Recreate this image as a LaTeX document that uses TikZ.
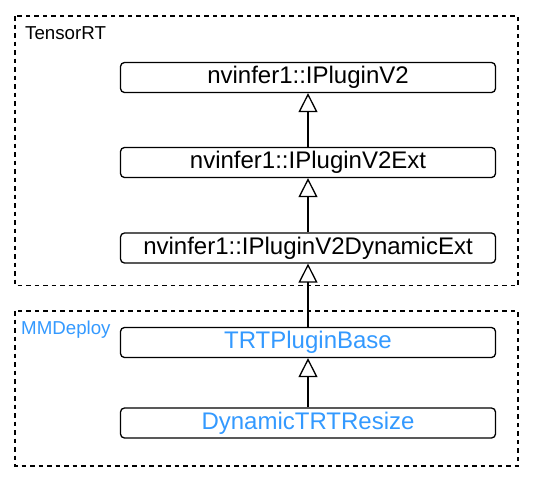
\documentclass[tikz,border=0pt]{standalone}
\usepackage{fontspec}
\setmainfont{Liberation Sans}
\usetikzlibrary{arrows.meta}
\definecolor{mmblue}{RGB}{51,153,255}
\begin{document}
\begin{tikzpicture}[x=1pt,y=-1pt,
  cls/.style={draw,line width=1.3pt,rounded corners=4pt,minimum width=375pt,minimum height=30pt,inner sep=0pt,font=\fontsize{24}{28}\selectfont},
  group/.style={draw,line width=1.3pt,dash pattern=on 4.5pt off 4pt},
  grouplabel/.style={anchor=base west,inner sep=0pt,font=\fontsize{18.7}{22}\selectfont},
  inherit/.style={draw,line width=1.5pt,-{Triangle[open,width=19pt,length=19pt,line width=1.3pt]}}]
\useasboundingbox (0,0) rectangle (535,480);
% groups
\draw[group] (15,16) rectangle (518,285.5);
\draw[group] (15,311) rectangle (518,466);
\node[grouplabel] (trt) at (25,39) {TensorRT};
\node[grouplabel,text=mmblue] (mmd) at (21,334) {MMDeploy};
% classes
\node[cls] (v2) at (308,77.5) {nvinfer1::IPluginV2};
\node[cls] (v2ext) at (308,162.5) {nvinfer1::IPluginV2Ext};
\node[cls] (dyn) at (308,248) {nvinfer1::IPluginV2DynamicExt};
\node[cls,text=mmblue] (base) at (308,342.5) {TRTPluginBase};
\node[cls,text=mmblue] (resize) at (308,423) {DynamicTRTResize};
% inheritance
\draw[inherit] (v2ext) -- (v2);
\draw[inherit] (dyn) -- (v2ext);
\draw[inherit] (base) -- (dyn);
\draw[inherit] (resize) -- (base);
\end{tikzpicture}
\end{document}
